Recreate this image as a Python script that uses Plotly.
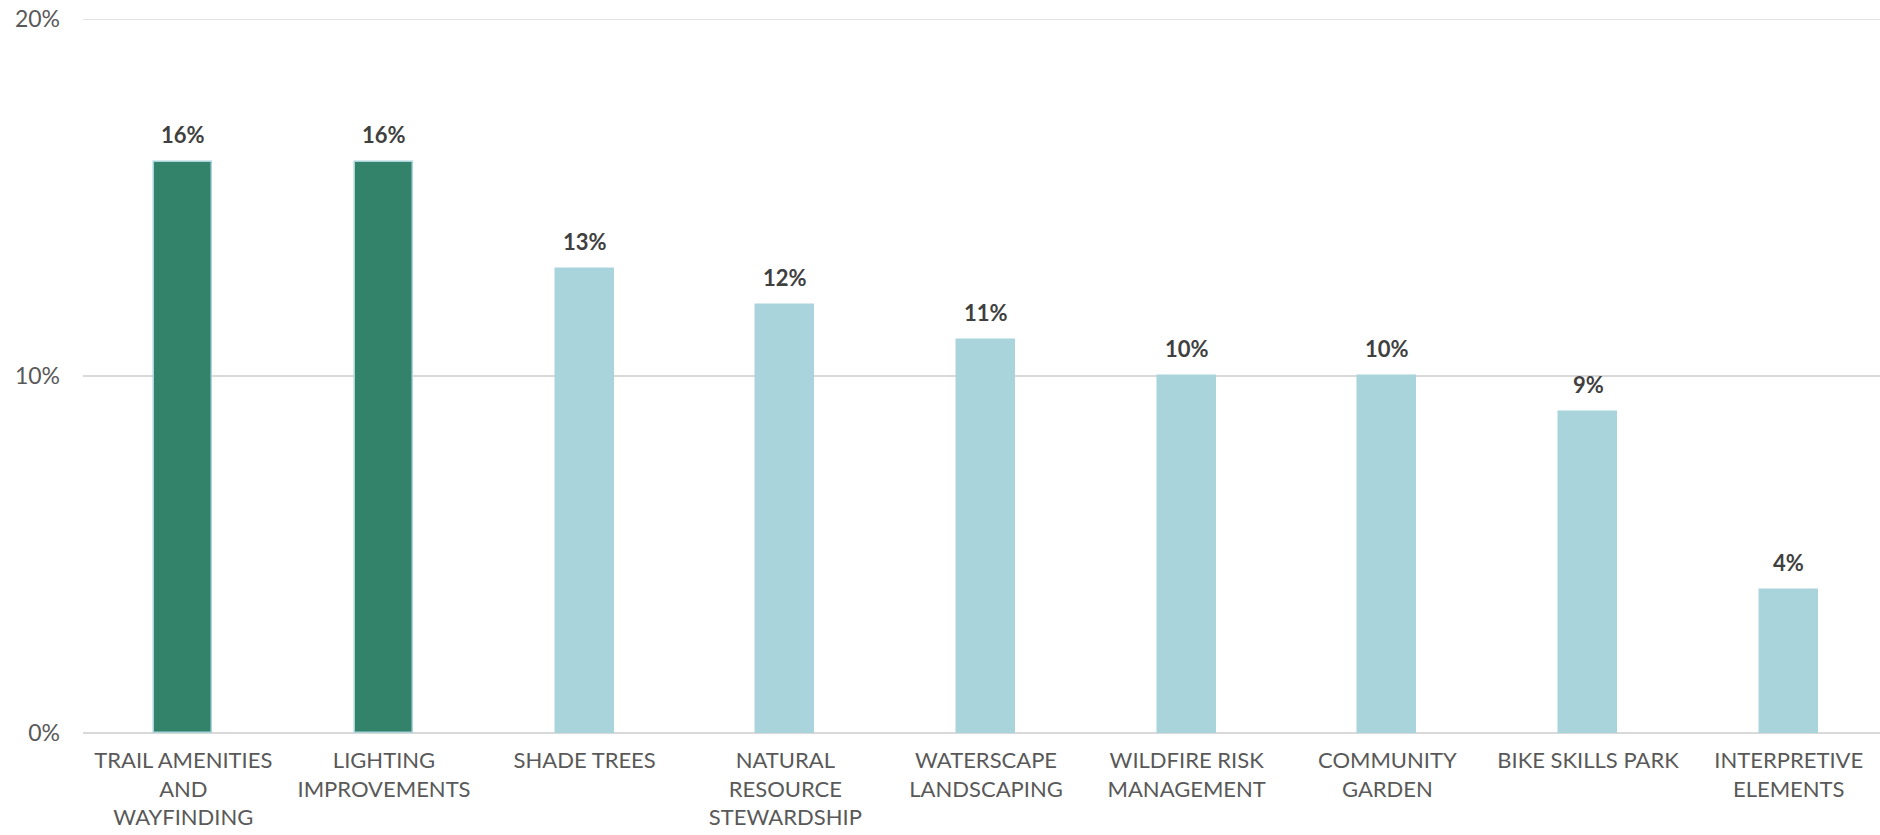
import plotly.graph_objects as go

categories = [
    "TRAIL AMENITIES<br>AND<br>WAYFINDING",
    "LIGHTING<br>IMPROVEMENTS",
    "SHADE TREES",
    "NATURAL<br>RESOURCE<br>STEWARDSHIP",
    "WATERSCAPE<br>LANDSCAPING",
    "WILDFIRE RISK<br>MANAGEMENT",
    "COMMUNITY<br>GARDEN",
    "BIKE SKILLS PARK",
    "INTERPRETIVE<br>ELEMENTS",
]
values = [16, 16, 13, 12, 11, 10, 10, 9, 4]
highlight = [True, True, False, False, False, False, False, False, False]
y_ticks = [0, 10, 20]
y_tick_text = ["0%", "10%", "20%"]

green = "#33836a"
light = "#a9d4db"
colors = [green if h else light for h in highlight]
font_family = "Lato, 'Open Sans', sans-serif"

fig = go.Figure(
    go.Bar(
        x=list(range(len(categories))),
        y=values,
        marker=dict(color=colors, line=dict(color=light, width=1.5)),
        width=0.29,
        cliponaxis=False,
        hoverinfo="skip",
    )
)

# value labels above each bar
for i, v in enumerate(values):
    fig.add_annotation(
        x=i, y=v, text=f"{v}%", showarrow=False,
        yanchor="bottom", yshift=12,
        font=dict(family=font_family, size=22, color="#404040", weight="bold"),
    )

# top gridline (plotly drops the one on the range edge)
fig.add_shape(
    type="line", xref="paper", yref="y", x0=0, x1=1, y0=20, y1=20,
    line=dict(color="#d9d9d9", width=1.5), layer="below",
)

fig.update_layout(
    width=1880,
    height=835,
    margin=dict(l=83, r=0, t=19, b=102, autoexpand=False),
    plot_bgcolor="white",
    paper_bgcolor="white",
    showlegend=False,
    bargap=0,
    font=dict(family=font_family, size=22, color="#595959"),
    xaxis=dict(
        tickmode="array",
        tickvals=list(range(len(categories))),
        ticktext=categories,
        range=[-0.5, 8.455],
        showgrid=False,
        showline=False,
        zeroline=False,
        ticks="",
        automargin=False,
        ticklabelstandoff=12,
        tickfont=dict(size=22, color="#595959"),
    ),
    yaxis=dict(
        range=[0, 20],
        tickmode="array",
        tickvals=y_ticks,
        ticktext=y_tick_text,
        showgrid=True,
        gridcolor="#d9d9d9",
        gridwidth=1.5,
        zeroline=True,
        zerolinecolor="#d9d9d9",
        zerolinewidth=1.5,
        showline=False,
        ticks="",
        automargin=False,
        ticklabelstandoff=22,
        ticklabeloverflow="allow",
        tickfont=dict(size=23, color="#595959"),
    ),
)

# drop the browser's default 8px body margin so the figure sits at the page corner
fig.write_html(
    "out.html",
    config={"displayModeBar": False},
    post_script="document.body.style.margin='0';document.body.style.overflow='hidden';",
)
